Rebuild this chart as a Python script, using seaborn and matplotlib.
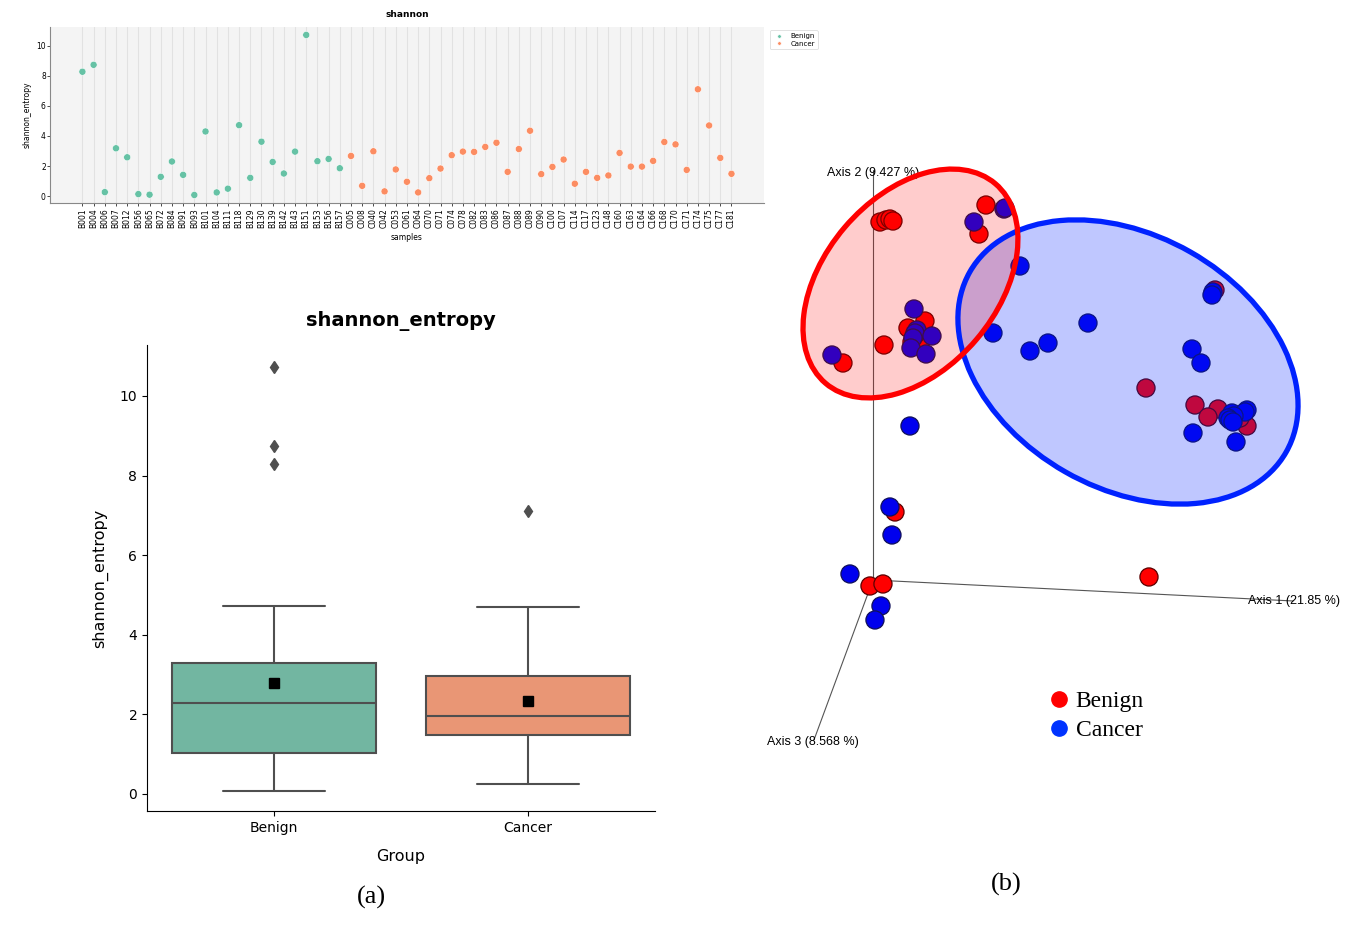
import numpy as np
import pandas as pd
import matplotlib
matplotlib.use('Agg')
import matplotlib.pyplot as plt
import seaborn as sns
from matplotlib.patches import Ellipse
from matplotlib.lines import Line2D

""" ______ data: shannon entropy per sample ______ """
benign_ids = ['B001', 'B004', 'B006', 'B007', 'B012', 'B056', 'B065', 'B072', 'B084', 'B091',
              'B093', 'B101', 'B104', 'B111', 'B118', 'B129', 'B130', 'B139', 'B142', 'B143',
              'B151', 'B153', 'B156', 'B157']
benign_shannon = [8.28, 8.74, 0.26, 3.18, 2.58, 0.13, 0.09, 1.28, 2.30, 1.41,
                  0.07, 4.30, 0.24, 0.49, 4.72, 1.21, 3.62, 2.27, 1.50, 2.96,
                  10.73, 2.32, 2.47, 1.85]
cancer_ids = ['C005', 'C008', 'C040', 'C042', 'C053', 'C061', 'C064', 'C070', 'C071', 'C074',
              'C078', 'C082', 'C083', 'C086', 'C087', 'C088', 'C089', 'C090', 'C100', 'C107',
              'C114', 'C117', 'C123', 'C148', 'C160', 'C163', 'C164', 'C166', 'C168', 'C170',
              'C171', 'C174', 'C175', 'C177', 'C181']
cancer_shannon = [2.67, 0.68, 2.98, 0.31, 1.77, 0.95, 0.24, 1.19, 1.83, 2.72,
                  2.96, 2.94, 3.27, 3.55, 1.61, 3.13, 4.35, 1.46, 1.94, 2.43,
                  0.82, 1.61, 1.21, 1.37, 2.87, 1.96, 1.96, 2.34, 3.60, 3.44,
                  1.74, 7.11, 4.70, 2.54, 1.48]

""" ______ data: PCoA (emperor view, projected coordinates) ______ """
benign_pc_x = [0.07, 0.13, 0.17, 0.20, 1.13, 1.06, 0.35, 0.52, 0.39, 0.47, 0.42, 0.11,
               -0.30, 0.22, -0.03, 0.10, 2.76, 3.42, 2.73, 3.22, 3.45, 3.35, 3.74, 3.67]
benign_pc_y = [3.58, 3.60, 3.61, 3.59, 3.75, 3.46, 2.52, 2.59, 2.38, 2.35, 2.45, 2.35,
               2.17, 0.68, -0.06, -0.04, 0.03, 2.90, 1.92, 1.75, 1.71, 1.63, 1.54, 1.62]
cancer_pc_x = [1.31, 1.32, 1.01, 0.41, 0.44, 0.42, 0.59, 0.40, 0.38, 0.53, -0.41, 0.37,
               1.47, 1.20, 1.57, 1.75, 2.15, 3.40, 3.39, 3.19, 3.28, 3.59, 3.74, 3.72,
               3.61, 3.55, 3.57, 3.60, 3.20, 3.63, 0.17, 0.19, -0.23, 0.08, 0.02]
cancer_pc_y = [3.71, 3.72, 3.58, 2.71, 2.50, 2.47, 2.44, 2.42, 2.32, 2.26, 2.25, 1.54,
               3.14, 2.47, 2.29, 2.37, 2.57, 2.88, 2.85, 2.31, 2.17, 1.67, 1.70, 1.68,
               1.64, 1.62, 1.60, 1.58, 1.47, 1.38, 0.73, 0.45, 0.06, -0.26, -0.40]

# projected axis end points and labels
axis_names = ['Axis 1 (21.85 %)', 'Axis 2 (9.427 %)', 'Axis 3 (8.568 %)']
axis_end_x = [4.20, 0.0, -0.59]
axis_end_y = [-0.21, 4.10, -1.60]

# group ellipses: centre x, centre y, width, height, angle
ell_benign = [0.375, 2.965, 2.62, 1.73, 49.6]
ell_cancer = [2.55, 2.18, 3.64, 2.53, -29.7]

groups = ['Benign', 'Cancer']

samples = pd.DataFrame({
    'samples': benign_ids + cancer_ids,
    'shannon_entropy': benign_shannon + cancer_shannon,
    'Group': ['Benign'] * len(benign_ids) + ['Cancer'] * len(cancer_ids),
})
pcoa = pd.DataFrame({
    'x': benign_pc_x + cancer_pc_x,
    'y': benign_pc_y + cancer_pc_y,
    'Group': ['Benign'] * len(benign_pc_x) + ['Cancer'] * len(cancer_pc_x),
})

set2 = sns.color_palette('Set2', 2)
sns.set_style('ticks')
plt.rcParams.update({'text.color': 'black', 'axes.labelcolor': 'black',
                     'xtick.color': 'black', 'ytick.color': 'black', 'axes.edgecolor': 'black'})

fig = plt.figure(figsize=(13.54, 9.26), dpi=100)

""" ______ top: shannon per sample ______ """
ax_top = fig.add_axes([0.0369, 0.7808, 0.5273, 0.1901])
ax_top.set_facecolor('#f4f4f4')
sns.scatterplot(data=samples, x='samples', y='shannon_entropy', hue='Group',
                palette=set2, s=26, edgecolor='white', linewidth=0.4, ax=ax_top)
ax_top.margins(x=0.05)
ax_top.grid(axis='x', color='#e2e2e2', linewidth=0.8)
ax_top.set_axisbelow(True)
ax_top.set_yticks([0, 2, 4, 6, 8, 10])
ax_top.tick_params(axis='x', labelsize=5.5, rotation=90, length=2, width=0.5, pad=2)
ax_top.tick_params(axis='y', labelsize=5.5, length=2, width=0.5, pad=1)
ax_top.set_xlabel('samples', fontsize=5.5, labelpad=3)
ax_top.set_ylabel('shannon_entropy', fontsize=5.5, labelpad=3)
ax_top.set_title('shannon', fontsize=6.5, weight='bold', pad=7)
for side in ['top', 'right']:
    ax_top.spines[side].set_visible(False)
for side in ['left', 'bottom']:
    ax_top.spines[side].set_color('#888888')
    ax_top.spines[side].set_linewidth(0.8)
leg = ax_top.legend(loc='upper left', bbox_to_anchor=(1.003, 1.0), fontsize=5,
                    markerscale=0.5, handletextpad=0.6, borderpad=0.4, labelspacing=0.2)
leg.get_frame().set_linewidth(0.5)

""" ______ bottom-left: boxplot ______ """
ax_box = fig.add_axes([0.1086, 0.1242, 0.3752, 0.5032])
sns.boxplot(data=samples, x='Group', y='shannon_entropy', hue='Group', palette=set2,
            order=groups, showmeans=True, width=0.8, linecolor='#4f4f4f', linewidth=1.5,
            meanprops=dict(marker='s', markerfacecolor='black', markeredgecolor='black', markersize=7),
            flierprops=dict(marker='d', markerfacecolor='#4f4f4f', markeredgecolor='#4f4f4f', markersize=6),
            legend=False, ax=ax_box)
ax_box.set_xlim(-0.5, 1.5)
ax_box.set_ylim(-0.43, 11.28)
ax_box.set_title('shannon_entropy', fontsize=14, weight='bold', pad=14)
ax_box.set_xlabel('Group', fontsize=11.5, labelpad=10)
ax_box.set_ylabel('shannon_entropy', fontsize=11.5, labelpad=8)
ax_box.tick_params(labelsize=10)
sns.despine(ax=ax_box)

fig.text(371 / 1354, 1 - 897 / 926, '(a)', family='Liberation Serif', fontsize=19, ha='center', va='center')

""" ______ right: PCoA emperor view ______ """
ax_p = fig.add_axes([0.5465, 0.1685, 0.4535, 0.6695])
ax_p.set_xlim(-1.33, 4.81)
ax_p.set_ylim(-1.90, 4.30)
ax_p.axis('off')

for ex, ey in zip(axis_end_x, axis_end_y):
    ax_p.plot([0, ex], [0, ey], color='#555555', linewidth=0.8, zorder=1)

sns.scatterplot(data=pcoa, x='x', y='y', hue='Group', palette=['#ff0000', '#0000ee'],
                s=170, linewidth=0.9, legend=False, ax=ax_p, zorder=2)
edge = ['#5a0000' if g == 'Benign' else '#10105a' for g in pcoa['Group']]
ax_p.collections[-1].set_edgecolor(edge)

for (cx, cy, w, h, ang), col, al in [(ell_cancer, '#0022ff', 0.25), (ell_benign, '#ff0000', 0.2)]:
    ax_p.add_patch(Ellipse((cx, cy), w, h, angle=ang, facecolor=col, alpha=al,
                           edgecolor='none', zorder=3))
    ax_p.add_patch(Ellipse((cx, cy), w, h, angle=ang, facecolor='none',
                           edgecolor=col, linewidth=3.8, zorder=4))

ax_p.text(3.747, axis_end_y[0], axis_names[0], fontsize=9, family='Liberation Sans', va='center', ha='left')
ax_p.text(0.0, 4.07, axis_names[1], fontsize=9, family='Liberation Sans', va='center', ha='center')
ax_p.text(-1.063, -1.62, axis_names[2], fontsize=9, family='Liberation Sans', va='center', ha='left')

handles = [Line2D([], [], marker='o', linestyle='', markersize=11, color=c, markeredgecolor=c)
           for c in ['#ff0000', '#0033ff']]
fig.legend(handles, groups, loc='center left', bbox_to_anchor=(1038 / 1354, 1 - 716 / 926),
           frameon=False, prop={'family': 'Liberation Serif', 'size': 17},
           handletextpad=0.2, labelspacing=0.3, handlelength=1.0, borderaxespad=0)

fig.text(1006 / 1354, 1 - 884 / 926, '(b)', family='Liberation Serif', fontsize=19, ha='center', va='center')

fig.savefig('out.png', dpi=100)
